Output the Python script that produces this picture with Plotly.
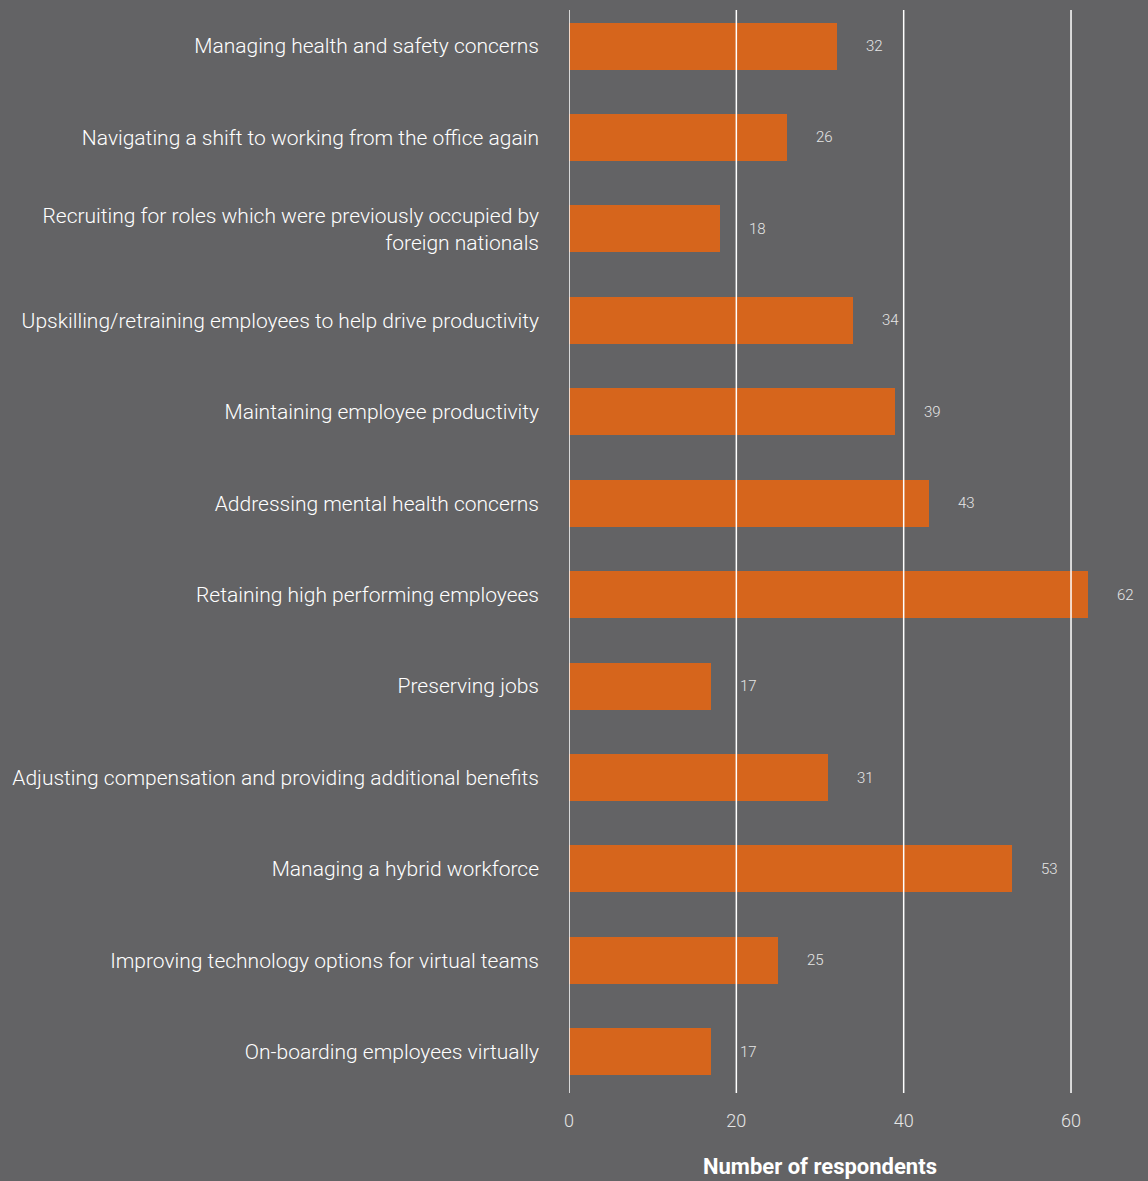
import plotly.graph_objects as go

# Survey responses, listed bottom-to-top as drawn on the category axis
categories = [
    "On-boarding employees virtually",
    "Improving technology options for virtual teams",
    "Managing a hybrid workforce",
    "Adjusting compensation and providing additional benefits",
    "Preserving jobs",
    "Retaining high performing employees",
    "Addressing mental health concerns",
    "Maintaining employee productivity",
    "Upskilling/retraining employees to help drive productivity",
    "Recruiting for roles which were previously occupied by<br>foreign nationals",
    "Navigating a shift to working from the office again",
    "Managing health and safety concerns",
]
respondents = [17, 25, 53, 31, 17, 62, 43, 39, 34, 18, 26, 32]
x_ticks = [0, 20, 40, 60]

BG = "#636365"
BAR = "#D6651C"
FONT = "Roboto"

fig = go.Figure(
    go.Bar(
        x=respondents,
        y=categories,
        orientation="h",
        marker=dict(color=BAR, line=dict(width=0)),
        width=0.514,
        hoverinfo="x+y",
    )
)

# value labels to the right of each bar
for cat, val in zip(categories, respondents):
    fig.add_annotation(
        x=val, y=cat, xref="x", yref="y",
        text=str(val), showarrow=False,
        xanchor="left", xshift=27,
        font=dict(family=FONT, size=15, color="#e6e6e6", weight=300),
    )

# vertical gridlines drawn over the bars
for t in x_ticks:
    fig.add_shape(
        type="line", xref="x", yref="paper",
        x0=t, x1=t, y0=0, y1=1,
        line=dict(color="#ffffff", width=1.5),
        layer="above",
    )

fig.add_annotation(
    x=30, y=-0.068, xref="x", yref="paper",
    text="<b>Number of respondents</b>", showarrow=False,
    xanchor="center", yanchor="middle",
    font=dict(family=FONT, size=22, color="#ffffff"),
)

fig.update_layout(
    width=1148, height=1181,
    margin=dict(l=569, r=0, t=10, b=88),
    paper_bgcolor=BG, plot_bgcolor=BG,
    showlegend=False,
    bargap=0,
    xaxis=dict(
        range=[0, 69.2], tickvals=x_ticks, showgrid=False, zeroline=False,
        showline=False, ticks="", ticklabelstandoff=15,
        tickfont=dict(family=FONT, size=18, color="#e6e6e6", weight=300),
        fixedrange=True,
    ),
    yaxis=dict(
        type="category", categoryorder="array", categoryarray=categories,
        range=[-0.45, 11.394], showgrid=False, zeroline=False, showline=False,
        ticks="", ticklabelstandoff=29, automargin=False,
        tickfont=dict(family=FONT, size=21, color="#ffffff", weight=300),
        fixedrange=True,
    ),
)

fig.write_html("out.html")
